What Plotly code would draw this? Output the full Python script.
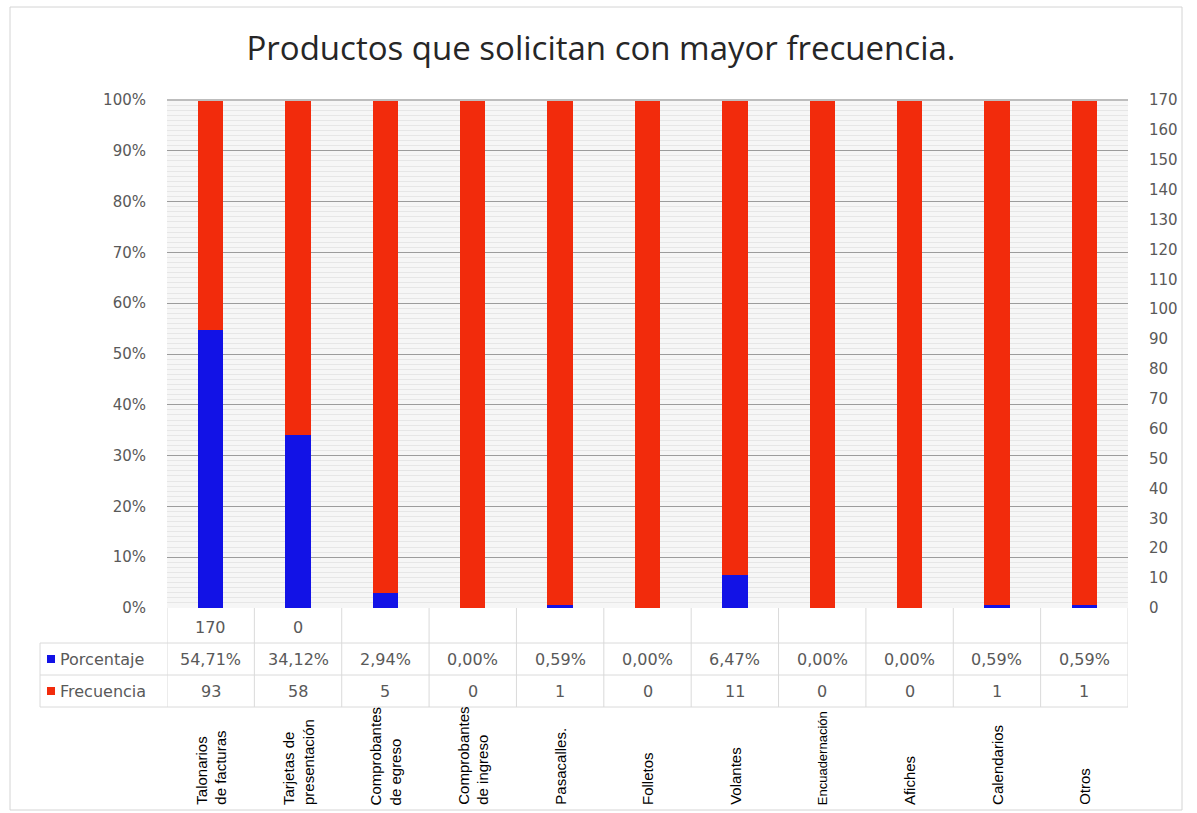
import plotly.graph_objects as go

# ---- data ----
categories = [
    "Talonarios<br>de facturas", "Tarjetas de<br>presentación", "Comprobantes<br>de egreso",
    "Comprobantes<br>de ingreso", "Pasacalles.", "Folletos", "Volantes",
    "Encuadernación", "Afiches", "Calendarios", "Otros",
]
porcentaje = [54.71, 34.12, 2.94, 0.00, 0.59, 0.00, 6.47, 0.00, 0.00, 0.59, 0.59]
frecuencia = [93, 58, 5, 0, 1, 0, 11, 0, 0, 1, 1]
fila_superior = ["170", "0", "", "", "", "", "", "", "", "", ""]
left_ticks = [0, 0.1, 0.2, 0.3, 0.4, 0.5, 0.6, 0.7, 0.8, 0.9, 1.0]
right_ticks = list(range(0, 171, 10))

BLUE = "#1212e6"
RED = "#f22b0c"
GREY_TXT = "#595959"
W, H = 1197, 813
L, R, T, B = 167, 1128, 100, 608   # plot area in pixels

n = len(categories)
xs = list(range(n))
rojo = [1 - p / 100 for p in porcentaje]


def px(xp):
    return (xp - L) / (R - L)


def py(yp):
    return (B - yp) / (B - T)


fig = go.Figure()
fig.add_trace(go.Bar(x=xs, y=[p / 100 for p in porcentaje], name="Porcentaje",
                     marker=dict(color=BLUE, line=dict(width=0))))
fig.add_trace(go.Bar(x=xs, y=rojo, name="Frecuencia",
                     marker=dict(color=RED, line=dict(width=0))))
# carrier trace so the secondary axis is drawn
fig.add_trace(go.Scatter(x=[0], y=[None], yaxis="y2", showlegend=False,
                         hoverinfo="skip", mode="markers"))

axis_font = dict(family="DejaVu Sans", size=15, color=GREY_TXT)
fig.update_layout(
    width=W, height=H,
    margin=dict(l=L, r=W - R, t=T, b=H - B),
    paper_bgcolor="white",
    plot_bgcolor="#f6f6f6",
    barmode="stack",
    bargap=0.71,
    showlegend=False,
    title=dict(text="Productos que solicitan con mayor frecuencia.",
               x=601 / W, xref="container", y=1 - 48 / H, yref="container",
               xanchor="center", yanchor="middle",
               font=dict(family="Open Sans", size=33, color="#262626")),
    xaxis=dict(range=[-0.5, n - 0.5], showticklabels=False, showgrid=False,
               zeroline=False, showline=False, ticks=""),
    yaxis=dict(range=[0, 1], tickvals=left_ticks, tickformat=".0%",
               showgrid=True, gridcolor="#9c9c9c", gridwidth=1,
               minor=dict(dtick=0.01, showgrid=True, gridcolor="#e6e6e6", gridwidth=1),
               zeroline=False, showline=False, ticks="",
               ticklabelstandoff=20, tickfont=axis_font),
    yaxis2=dict(range=[0, 170], tickvals=right_ticks, overlaying="y", side="right",
                showgrid=False, zeroline=False, showline=False, ticks="",
                ticklabelstandoff=20, tickfont=axis_font),
)

shapes = []
# top edge of plot area
shapes.append(dict(type="line", xref="paper", yref="paper", x0=0, x1=1, y0=1, y1=1,
                   line=dict(color="#bdbdbd", width=2)))
# outer chart border
shapes.append(dict(type="rect", xref="paper", yref="paper",
                   x0=px(10), x1=px(1182), y0=py(7), y1=py(810),
                   line=dict(color="#d4d4d4", width=1), layer="below"))

# data table grid
tbl_line = dict(color="#dadada", width=1)
for yl in (643, 675, 707):
    shapes.append(dict(type="line", xref="paper", yref="paper",
                       x0=px(40), x1=1, y0=py(yl), y1=py(yl), line=tbl_line))
for k in range(n + 1):
    shapes.append(dict(type="line", xref="x", yref="paper",
                       x0=k - 0.5, x1=k - 0.5, y0=py(B), y1=py(707), line=tbl_line))
shapes.append(dict(type="line", xref="paper", yref="paper",
                   x0=px(40), x1=px(40), y0=py(643), y1=py(707), line=tbl_line))

# legend keys inside the table
for yc, col in ((659, BLUE), (691, RED)):
    shapes.append(dict(type="rect", xref="paper", yref="paper",
                       x0=px(47), x1=px(55), y0=py(yc + 4), y1=py(yc - 4),
                       fillcolor=col, line=dict(width=0)))
fig.update_layout(shapes=shapes)

ann = []
cell_font = dict(family="DejaVu Sans", size=16, color=GREY_TXT)
for i in xs:
    ann.append(dict(x=i, y=py(627), xref="x", yref="paper", text=fila_superior[i],
                    showarrow=False, font=cell_font, xanchor="center", yanchor="middle"))
    ann.append(dict(x=i, y=py(659), xref="x", yref="paper",
                    text=f"{porcentaje[i]:.2f}%".replace(".", ","),
                    showarrow=False, font=cell_font, xanchor="center", yanchor="middle"))
    ann.append(dict(x=i, y=py(691), xref="x", yref="paper", text=str(frecuencia[i]),
                    showarrow=False, font=cell_font, xanchor="center", yanchor="middle"))
    size = 13 if categories[i] == "Encuadernación" else 15
    ann.append(dict(x=i, y=py(807), xref="x", yref="paper", text=categories[i],
                    showarrow=False, textangle=-90, align="left",
                    font=dict(family="Liberation Sans", size=size, color="black"),
                    xanchor="center", yanchor="bottom"))

ann.append(dict(x=px(58), y=py(659), xref="paper", yref="paper", text="Porcentaje",
                showarrow=False, font=cell_font, xanchor="left", yanchor="middle"))
ann.append(dict(x=px(58), y=py(691), xref="paper", yref="paper", text="Frecuencia",
                showarrow=False, font=cell_font, xanchor="left", yanchor="middle"))
fig.update_layout(annotations=ann)

fig.write_html("out.html")
